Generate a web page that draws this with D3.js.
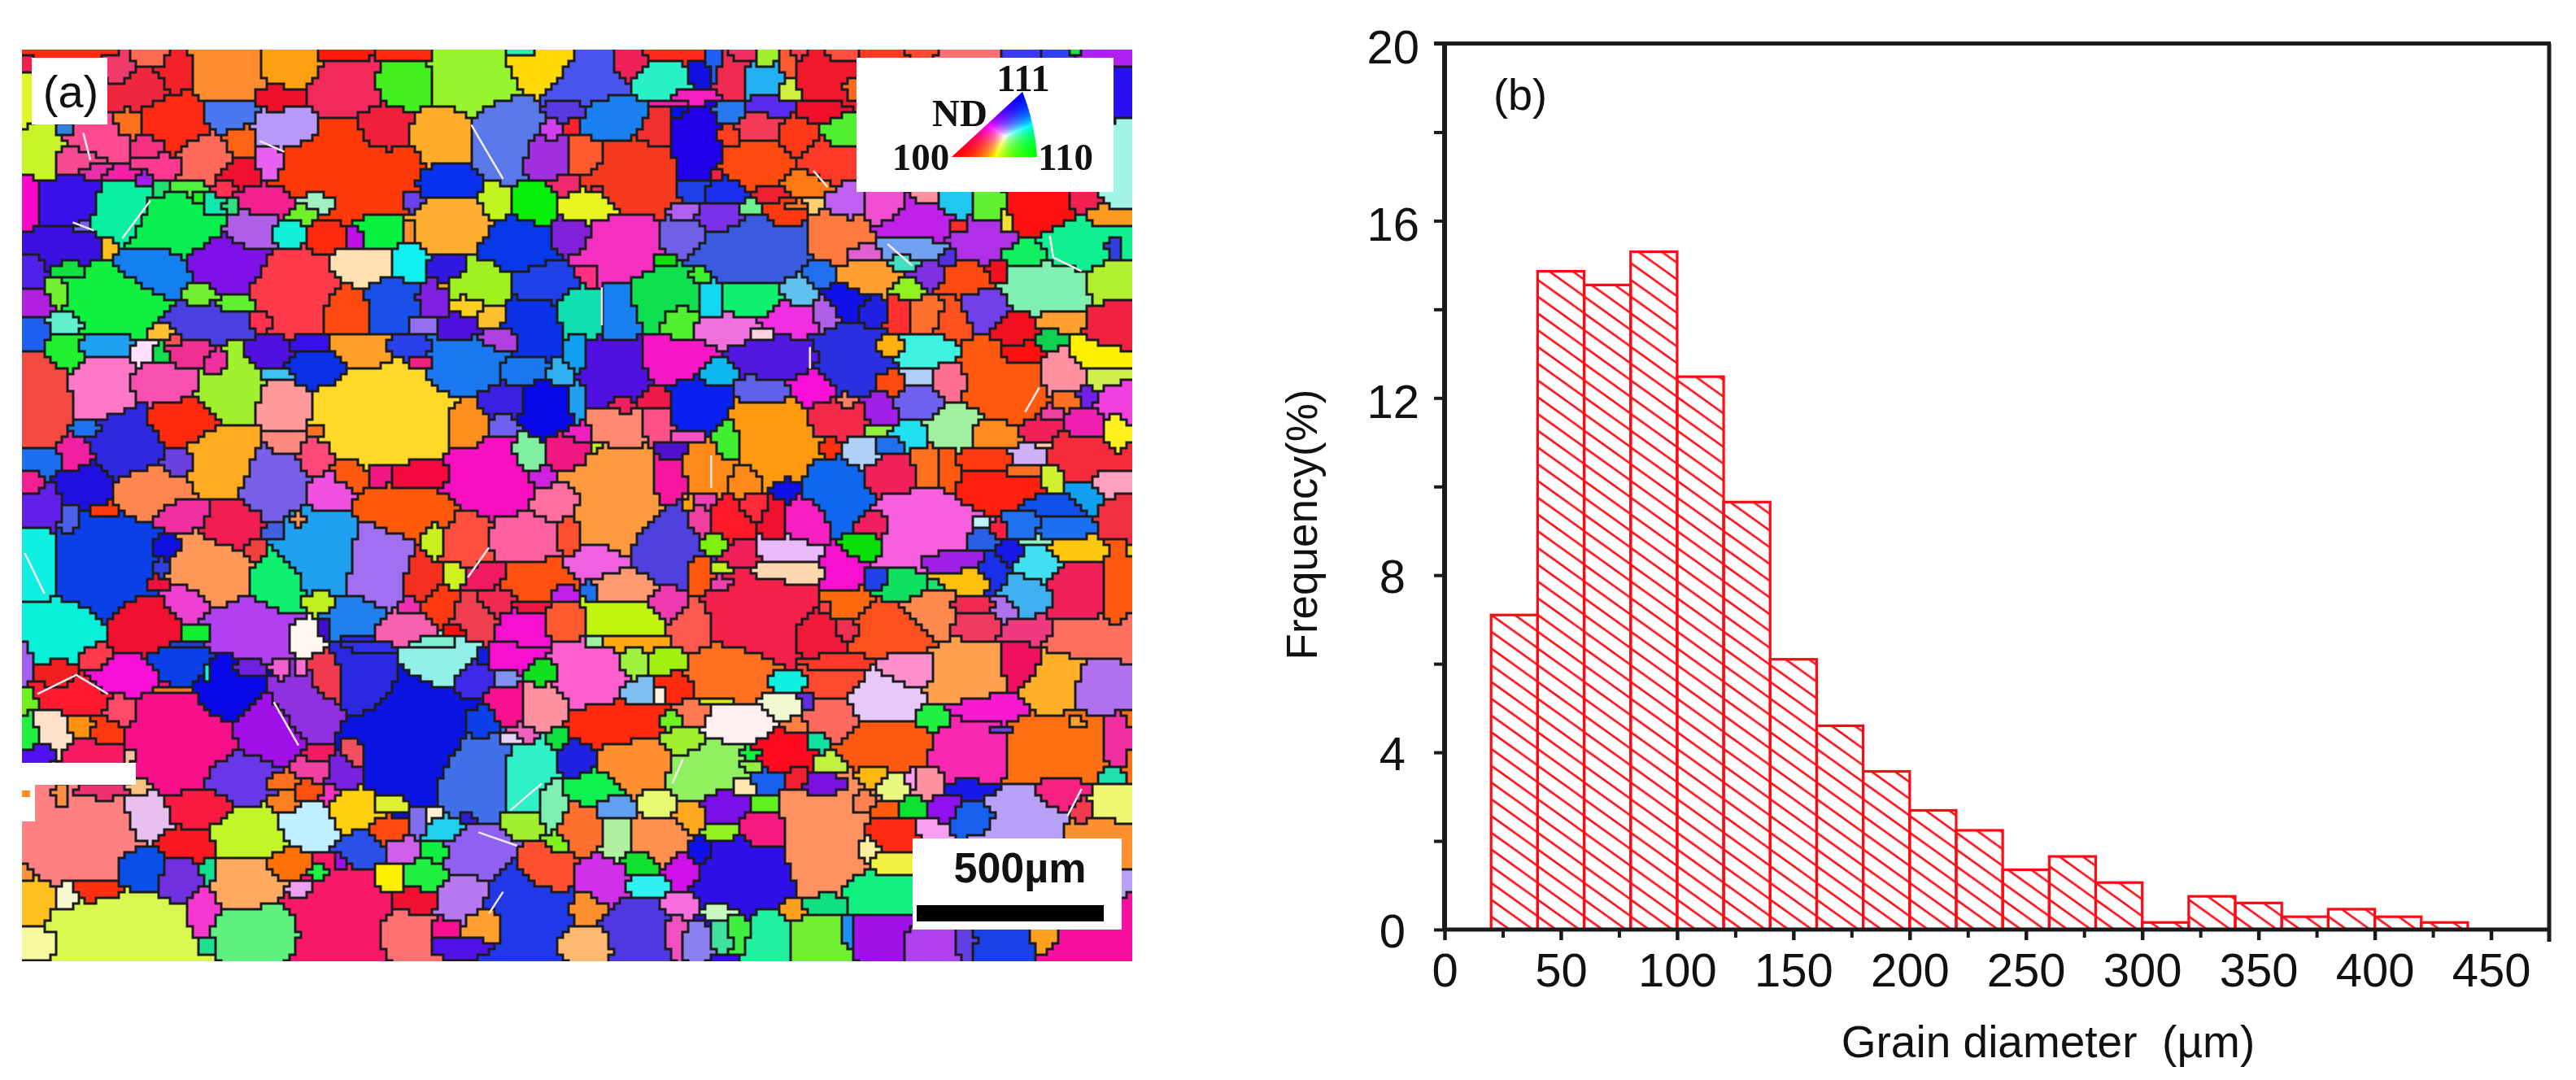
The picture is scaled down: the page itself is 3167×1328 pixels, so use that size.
<!DOCTYPE html>
<html>
<head>
<meta charset="utf-8">
<script src="https://cdn.jsdelivr.net/npm/d3@7"></script>
<style>
  html, body { margin: 0; background: #fff; }
  svg { display: block; filter: blur(0.7px); }
  text { font-family: "Liberation Sans", Arial, sans-serif; fill: #111; }
</style>
</head>
<body>
<div id="chart"></div>
<script>
// (b) histogram
const binStart = [20,40,60,80,100,120,140,160,180,200,220,240,260,280,300,320,340,360,380,400,420];
const frequency = [7.1,14.86,14.55,15.3,12.48,9.65,6.1,4.6,3.57,2.69,2.24,1.35,1.65,1.06,0.16,0.75,0.6,0.29,0.46,0.29,0.16];
const binWidth = 20;
const xMajor = [0,50,100,150,200,250,300,350,400,450];
const xMinor = [25,75,125,175,225,275,325,375,425];
const yMajor = [0,4,8,12,16,20];
const yMinor = [2,6,10,14,18];

// (a) grain map: centre x, centre y, width, height, colour, in three strips of map units
const grainsTop = [
[80,40,140,40,'#ff2a10'],[10,240,30,130,'#e0f52a'],[15,80,20,50,'#f0204a'],[150,100,40,130,'#f03a6a'],[185,65,60,70,'#ff6a50'],
[225,120,50,140,'#f4202a'],[178,180,85,140,'#f0283f'],[300,125,100,200,'#ff8c2e'],[392,105,85,150,'#ffa012'],[375,210,70,90,'#f0102e'],
[465,170,110,220,'#f22a5c'],[460,55,70,50,'#ff1a0a'],[550,55,70,55,'#ff2a10'],[552,165,95,170,'#44f01e'],[645,150,125,240,'#96f52e'],
[750,100,105,170,'#ffd808'],[722,40,50,25,'#20f0c0'],[805,135,130,175,'#4a55f0'],[868,90,50,120,'#f0205a'],[935,55,85,50,'#ff2a1a'],
[910,150,85,130,'#2af0c8'],[968,125,35,90,'#1010e0'],[988,85,20,100,'#2060f0'],[1015,125,40,160,'#f02a50'],[960,205,55,60,'#f820c0'],
[925,232,50,30,'#f020b0'],[1030,55,45,45,'#f03060'],[1062,60,30,60,'#a0f030'],[1060,150,55,115,'#22b0f0'],[1095,185,30,70,'#d0f040'],
[1095,90,25,100,'#ff5a30'],[1140,120,70,180,'#f0182a'],[1110,50,30,40,'#ff3a50'],[1165,50,40,40,'#ff5040'],[1230,50,60,30,'#ff3a20'],
[1280,45,40,25,'#ff4a30'],[1350,48,80,30,'#ff7070'],[1425,48,60,30,'#3a3af0'],[1480,48,50,30,'#3040f0'],[1500,45,20,25,'#20e040'],
[1540,60,50,60,'#b020f0'],[1185,170,20,60,'#ff6a20'],[1555,200,30,150,'#2a10f0'],[1560,450,30,250,'#a0f5e8'],
[38,420,65,180,'#c8f52a'],[115,360,90,130,'#ff4a90'],[75,440,85,110,'#f54a90'],[190,390,45,70,'#f53080'],[205,460,60,70,'#ff3a90'],
[150,495,60,50,'#f520a8'],[110,480,40,50,'#e830a8'],[178,505,25,45,'#a020e8'],[225,300,100,200,'#ff2a14'],[298,270,80,120,'#4a78f0'],
[160,310,40,100,'#ff7020'],[70,330,20,35,'#3080e0'],[268,430,75,170,'#ff6a5a'],[318,375,45,120,'#ff6414'],[318,490,70,100,'#f01030'],
[383,325,95,150,'#b898f8'],[358,450,40,130,'#e860f0'],[470,470,200,350,'#ff3a08'],[520,335,80,200,'#f0203a'],[603,350,85,220,'#ffad2a'],
[612,520,85,120,'#0a30f0'],[692,360,90,300,'#5a78e8'],[780,260,50,70,'#5838e0'],[852,290,95,155,'#1a80f0'],[905,325,50,140,'#f03030'],
[965,390,70,300,'#2000e8'],[940,260,20,50,'#0010f0'],[750,430,70,170,'#a030e0'],[760,335,25,70,'#d040f0'],[790,320,20,50,'#ff2030'],
[808,430,55,130,'#ff5a30'],[875,490,125,270,'#f53a20'],[1010,265,40,80,'#2878f0'],[1068,240,55,70,'#5a2af0'],[1050,320,60,110,'#f53a58'],
[1010,355,30,90,'#ff4020'],[1110,360,55,130,'#ff3a1a'],[1135,260,50,80,'#f0102a'],[1165,335,45,90,'#50f030'],[1045,460,100,175,'#ff4a10'],
[1140,450,60,160,'#ff3a28'],[1118,520,70,90,'#ff7a14'],[990,500,20,60,'#f02040'],[775,535,40,80,'#f02a6a'],[825,545,25,45,'#ff2a5a'],
[960,540,50,80,'#2040e8'],[1005,550,60,100,'#1a30f0'],[1068,565,45,60,'#f02030'],[20,590,25,200,'#f808c8'],[75,590,85,170,'#3a10e8'],
[150,630,85,190,'#08f0a0'],[225,680,125,220,'#08f050'],[205,550,20,50,'#20e070'],[250,545,50,45,'#50f040'],[258,578,20,30,'#20f020'],
[280,610,30,90,'#10e8b0'],[303,610,20,60,'#30e080'],[295,545,30,60,'#ff3050'],[355,590,80,110,'#f5208f'],[333,700,70,150,'#b060e8'],
[385,710,45,80,'#10f0d8'],[408,635,40,70,'#70f028'],[430,595,70,90,'#a0f0c0'],[440,720,50,110,'#ff2a10'],[515,700,70,110,'#08f040'],
[480,730,30,90,'#c010e8'],[562,590,25,70,'#6a40e8'],[555,700,20,70,'#ff9030'],[622,680,110,200,'#ffb030'],[680,600,45,140,'#c0f520'],
[735,600,65,160,'#08f008'],[810,615,80,120,'#e8f520'],[710,750,110,190,'#0838e8'],[785,720,60,130,'#8020d8'],[855,770,115,250,'#f530c0'],
[945,630,45,50,'#b060f0'],[1000,660,65,110,'#7a30e8'],[945,725,65,130,'#7060e8'],[1040,765,150,240,'#3a5ae0'],[1040,620,25,60,'#70f090'],
[1085,640,50,100,'#ff3a10'],[1105,610,35,30,'#ff7a20'],[1130,605,20,50,'#ffd070'],[1160,730,70,170,'#ff7a40'],[1175,600,40,100,'#c060f0'],
[1230,610,45,100,'#f050d0'],[1285,670,95,130,'#c020e8'],[1290,575,30,40,'#ff90a0'],[1330,610,40,90,'#20c8f0'],[1378,610,40,100,'#60f030'],
[1335,690,30,50,'#ff2a30'],[1450,630,85,160,'#ff1010'],[1510,590,30,70,'#f02050'],[1545,650,50,60,'#ff9a20'],[1403,670,15,80,'#f0e030'],
[1372,740,85,130,'#b030e8'],[1500,750,95,170,'#10f090'],[1430,785,70,80,'#10f060'],[1275,775,80,90,'#70a0f0'],[1555,760,20,70,'#3040e0'],
[1260,810,40,70,'#40e0c0'],[1200,785,50,50,'#e060d0'],[1140,860,45,80,'#2070f0'],[1205,880,75,120,'#ffa030'],[1295,860,45,80,'#8030e0'],
[1345,880,60,110,'#ff4a10'],[1390,850,25,80,'#f01020'],[1320,800,25,50,'#5030e0'],[1460,910,105,170,'#80f0b0'],[1545,890,50,120,'#b0f030'],
[1262,920,40,70,'#90f020'],[60,760,95,130,'#3a10e0'],[95,690,20,50,'#7060f0'],[130,760,20,60,'#ffc020'],[195,850,90,180,'#1480f0'],
[300,820,100,200,'#8010e8'],[75,845,40,60,'#10e040'],[25,830,30,120,'#5020e8'],[30,970,45,90,'#b020e0'],[138,945,130,200,'#10f040'],
[60,935,30,90,'#70f030'],[260,935,45,70,'#70f030'],[310,975,50,60,'#60f030'],[395,920,115,240,'#ff3a4a'],[272,1030,110,120,'#4a40e0'],
[345,1030,30,70,'#ff3050'],[490,835,85,120,'#ffe0b0'],[558,825,50,120,'#10f0f0'],[612,835,60,90,'#3018e0'],[655,900,85,180,'#a0f020'],
[532,965,70,170,'#1a50e8'],[468,990,60,150,'#ff4a10'],[590,960,40,130,'#8020e0'],[640,970,50,70,'#ffd020'],[675,1020,40,70,'#ffc030'],
[605,905,25,35,'#ffa020'],[580,1045,40,50,'#9070f0'],[625,1060,50,80,'#5010e0'],[750,895,85,140,'#2040e8'],[730,1040,75,180,'#0a30e8'],
[800,990,70,160,'#10e0b0'],[855,985,55,200,'#1880f0'],[915,940,110,200,'#10e050'],[810,860,30,90,'#ff3080'],[970,870,30,60,'#40f030'],
[920,810,30,50,'#10e010'],[1040,950,85,130,'#10f070'],[985,960,40,130,'#10d8f0'],[940,1030,50,130,'#50f030'],[1005,1060,80,100,'#f070e0'],
[1100,1020,75,110,'#f030e0'],[1108,930,40,110,'#60c0f0'],[1145,1010,35,90,'#b060e8'],[1180,950,50,120,'#1010e8'],[1215,990,35,90,'#2020e0'],
[1250,1000,30,110,'#ff3030'],[1290,1010,50,100,'#ff7030'],[1330,1030,50,130,'#ff5020'],[1370,990,65,130,'#7040e8'],[1415,1075,55,120,'#f01020'],
[1480,1030,60,70,'#ffa030'],[1548,1050,50,130,'#f02040'],[1465,1105,35,60,'#10d050'],[1055,1085,30,50,'#ffd0e0'],[690,1095,50,80,'#b040e0'],
[208,1075,25,60,'#ffc030'],[25,1075,35,120,'#2060f0'],[70,1040,40,70,'#60f0d0'],[225,1110,30,30,'#ff5050']
];
const grainsMiddle = [
[68,45,50,110,'#20f030'],[125,25,70,70,'#20a0f0'],[180,45,40,70,'#ffe0ff'],[205,50,20,70,'#10e050'],[243,45,60,90,'#f03090'],
[285,85,35,90,'#f030a0'],[360,45,55,90,'#5010e0'],[415,15,50,50,'#3a10e8'],[428,100,80,130,'#0a30e8'],[488,45,80,110,'#ffa028'],
[555,25,50,70,'#2a40e8'],[578,75,35,50,'#f02080'],[30,220,85,320,'#f54a40'],[125,175,85,230,'#ff78c8'],[205,160,90,130,'#f850b0'],
[100,320,40,70,'#2070f0'],[155,375,100,250,'#3028e0'],[235,300,100,160,'#ff2a10'],[305,185,85,240,'#a0f030'],[370,125,50,40,'#40c0f0'],
[380,240,75,180,'#ff9a9a'],[380,375,60,90,'#ff8880'],[425,325,30,40,'#ff7020'],[422,425,50,120,'#ff4a78'],[520,275,190,350,'#ffd82a'],
[632,100,95,190,'#1a78f0'],[715,115,60,80,'#1a78f0'],[690,225,65,120,'#3a20e0'],[690,310,40,80,'#7060f0'],[750,240,70,190,'#0808e8'],
[772,130,30,80,'#30b0f0'],[795,220,20,140,'#20a0f0'],[850,120,95,210,'#5010e0'],[795,50,25,120,'#10a0f0'],[930,75,95,160,'#f818c8'],
[905,215,50,80,'#f01a4a'],[860,235,35,60,'#f02060'],[965,225,85,200,'#0a20f0'],[992,120,45,100,'#10b8f0'],[1060,185,70,100,'#6060e8'],
[1085,70,110,130,'#5018e0'],[1130,170,65,130,'#f810d8'],[1175,85,90,200,'#2a30e0'],[1175,220,25,50,'#ff8060'],[1225,255,45,120,'#a020e8'],
[1240,155,40,70,'#ff4a10'],[1240,20,35,50,'#ffb010'],[1295,40,70,100,'#40f0e0'],[1280,130,40,60,'#b0d0f8'],[1282,230,70,110,'#7060f0'],
[1325,150,45,140,'#ff7090'],[1395,150,110,280,'#ff5a10'],[1420,45,65,110,'#ff1010'],[1480,110,60,140,'#ff90a0'],[1525,50,60,90,'#fff000'],
[1540,140,40,70,'#d0f050'],[1490,215,35,70,'#ff7020'],[1520,200,30,60,'#7020e8'],[1550,220,40,120,'#f040e0'],[1470,265,30,50,'#f040a0'],
[1515,300,45,90,'#f020b0'],[1555,330,25,110,'#fff020'],[1450,320,50,70,'#f0205a'],[1270,340,50,100,'#20e0f0'],[1330,310,80,170,'#a0f0a0'],
[1380,345,70,110,'#ff8a20'],[1220,325,35,40,'#90f040'],[1160,290,90,140,'#f52a4a'],[1195,410,50,110,'#b0d0f8'],[1155,390,35,70,'#ff3010'],
[1235,385,40,60,'#2070f0'],[1072,360,135,290,'#ff9a10'],[1010,375,40,170,'#40f030'],[955,350,45,30,'#f850c8'],[925,400,40,60,'#5010d0'],
[860,315,85,140,'#ff8a70'],[905,300,50,140,'#ff5088'],[725,420,45,130,'#80f0a0'],[780,410,60,120,'#f01880'],[798,340,35,70,'#f020c0'],
[820,390,15,35,'#c0f020'],[640,310,60,170,'#ff9020'],[670,500,120,270,'#f810c0'],[745,505,35,70,'#d020e0'],[770,590,70,130,'#ff70a0'],
[850,590,140,400,'#ff9a40'],[920,510,45,180,'#f818a0'],[990,470,70,170,'#ff8a18'],[1030,510,50,120,'#ff8a18'],[1092,550,40,80,'#1010e8'],
[1160,570,90,270,'#1068f0'],[1245,500,85,130,'#f0205a'],[1290,470,40,160,'#ff7020'],[1320,480,30,170,'#ff5a10'],[1370,430,75,80,'#ff3a10'],
[1385,550,105,130,'#ff2010'],[1435,420,50,70,'#d0b0f8'],[1425,475,40,60,'#ff7020'],[1470,500,25,100,'#d0f030'],[1505,425,80,140,'#f52a3a'],
[1455,385,25,30,'#ffd0a0'],[1515,570,45,90,'#10a0f0'],[1547,530,35,90,'#ffa0c0'],[1465,605,85,70,'#1050e8'],[1555,640,30,130,'#f03040'],
[1425,665,50,90,'#2070f0'],[1480,680,60,70,'#1a70f0'],[1365,665,25,40,'#c0f0f8'],[1368,735,40,70,'#2a60e8'],[1395,690,20,60,'#ff2040'],
[1440,740,35,30,'#90f0c0'],[1505,775,75,70,'#ffc810'],[1410,780,35,70,'#1818e8'],[1328,810,85,70,'#a020e8'],[1450,825,60,110,'#40e0f0'],
[1385,840,35,120,'#1a30e8'],[1348,880,75,70,'#ffc010'],[1430,930,60,120,'#40b0f0'],[1505,900,70,190,'#f0205a'],[1555,880,25,240,'#ff5a10'],
[1400,985,30,90,'#b070f0'],[1355,975,60,55,'#f02a50'],[1290,1010,75,170,'#ff8a50'],[1360,1050,60,90,'#f03a60'],[1435,1070,70,80,'#f03a80'],
[1510,1085,90,110,'#ff7060'],[1300,900,20,40,'#20e070'],[1258,905,55,100,'#10e060'],[1222,880,30,60,'#2040e8'],[1170,970,60,110,'#ff6a10'],
[1250,1060,110,150,'#ff5020'],[1198,745,60,90,'#08e008'],[1215,675,50,100,'#f02060'],[1285,670,130,260,'#f860e0'],[1125,660,70,190,'#f820c0'],
[1165,840,50,170,'#f810d0'],[1100,770,85,100,'#e8b8f8'],[1100,850,110,80,'#ffd8b0'],[1025,790,50,90,'#f0205a'],[1075,650,30,170,'#f01030'],
[1010,660,50,150,'#ff1a2a'],[1042,610,45,80,'#ff2a3a'],[990,745,40,70,'#80f010'],[980,585,25,50,'#f040b0'],[955,605,15,50,'#ffa010'],
[968,670,30,100,'#f040a0'],[920,760,100,280,'#5040e0'],[825,810,80,120,'#f060e0'],[865,905,85,120,'#ff9a70'],[968,855,35,130,'#ff5a10'],
[925,960,50,110,'#f03ab0'],[1000,835,25,50,'#c0f020'],[1000,900,30,60,'#f040b0'],[1055,1000,150,280,'#f5204a'],[960,1050,50,170,'#ff5a50'],
[1135,1070,65,150,'#f01a3a'],[1150,980,20,50,'#ff4040'],[1175,1060,30,80,'#f03050'],[850,1020,105,120,'#c0f510'],[875,1110,75,60,'#ffa810'],
[780,1030,60,120,'#ff5a30'],[818,1110,20,40,'#a0f0a0'],[718,1060,65,160,'#f810d0'],[735,880,95,150,'#ff5010'],[775,930,35,60,'#c020e8'],
[815,920,20,60,'#2070f0'],[725,975,50,45,'#f01840'],[680,960,50,100,'#f02a50'],[650,1020,60,140,'#f04050'],[600,975,45,140,'#ff3a10'],
[620,1070,30,50,'#ff1010'],[550,1060,75,110,'#f860b0'],[595,1115,70,50,'#80f0d0'],[575,870,45,170,'#f53020'],[620,850,30,100,'#d0f020'],
[590,730,30,150,'#c8f020'],[640,740,75,210,'#ff5040'],[715,735,95,170,'#ff60a0'],[665,860,55,110,'#f01a60'],[785,715,30,130,'#ff5030'],
[555,635,130,170,'#ff5a0a'],[575,490,85,90,'#f50a40'],[515,490,30,80,'#f01880'],[472,490,45,110,'#ff5a10'],[445,560,60,140,'#f050e0'],
[360,510,100,270,'#7a60e8'],[295,440,110,270,'#ffac20'],[230,450,45,100,'#6a40e0'],[195,555,105,190,'#ff8850'],[100,530,70,170,'#2010e0'],
[85,415,50,120,'#f020a0'],[35,440,55,110,'#1a70f0'],[25,510,30,100,'#f02090'],[38,620,55,150,'#6020e8'],[75,650,30,100,'#4a60e8'],
[125,625,40,60,'#ff3a10'],[125,840,145,370,'#0a40e8'],[35,825,55,260,'#10f0e0'],[60,1040,120,180,'#08f0d8'],[180,1030,100,190,'#f01030'],
[200,895,30,60,'#f01040'],[210,760,40,80,'#1010e0'],[205,830,20,70,'#3040e0'],[235,630,80,110,'#f030a0'],[308,675,80,190,'#f01e50'],
[278,850,110,250,'#ff9858'],[340,770,30,80,'#f04040'],[240,960,65,140,'#f040d0'],[370,880,75,220,'#10f070'],[365,700,30,70,'#4060e0'],
[430,770,125,300,'#20a0f0'],[400,660,20,50,'#ff9050'],[430,960,40,70,'#c0f020'],[510,810,90,300,'#a070f0'],[480,1010,70,130,'#2080f0'],
[555,975,30,50,'#f030b0'],[330,1050,110,190,'#b040f0'],[255,1075,45,60,'#10f030'],[410,1090,45,100,'#fff8f0'],[435,1060,20,60,'#4010d0'],
[240,1125,40,30,'#2040e0'],[500,1125,60,50,'#3030e8']
];
const grainsBottom = [
[12,80,15,130,'#a060f0'],[115,55,35,80,'#ff3a4a'],[235,80,75,130,'#0a40e8'],[155,130,85,130,'#f810d8'],[60,130,45,80,'#f02020'],
[80,200,95,130,'#ff1a30'],[225,180,50,25,'#ff7020'],[270,120,15,90,'#10f0f0'],[300,185,85,220,'#0808e8'],[325,100,40,70,'#7020e0'],
[375,100,20,60,'#f060d0'],[405,100,15,60,'#ff70d0'],[440,145,45,150,'#f03a50'],[405,230,85,210,'#9030e0'],[355,310,90,210,'#a010e8'],
[495,120,75,240,'#2a28e0'],[605,70,90,170,'#90f0e8'],[570,360,145,420,'#0a14e0'],[645,130,45,130,'#4028e8'],[660,60,20,60,'#1020e0'],
[708,45,65,100,'#f810d0'],[658,300,45,100,'#0a40e8'],[745,110,40,90,'#10e020'],[695,140,30,50,'#8090f0'],[695,225,45,130,'#f81090'],
[750,240,60,170,'#ff90a0'],[815,130,100,220,'#ff60d0'],[875,75,40,110,'#a0f040'],[925,70,50,90,'#a0f010'],[880,190,45,100,'#80c0f0'],
[935,160,50,100,'#ff2a10'],[1005,115,110,190,'#ff7020'],[990,215,50,40,'#d0f010'],[915,190,20,50,'#fff0e0'],[1095,145,50,60,'#10f0e0'],
[1085,230,50,90,'#f0f8d0'],[1120,210,20,60,'#6030e0'],[1155,140,75,130,'#ff4a30'],[1160,80,70,60,'#ff3a2a'],[1230,215,90,170,'#e8c8f8'],
[1270,100,70,120,'#ff90d0'],[1345,120,100,220,'#ffa050'],[1425,90,50,150,'#f01060'],[1465,165,75,190,'#ffb028'],[1375,245,100,100,'#f81ad0'],
[1530,180,55,130,'#b070f0'],[1300,280,45,90,'#20f040'],[1155,295,75,140,'#ff6a60'],[1105,310,35,60,'#ff8040'],[1020,295,90,130,'#fff0f0'],
[960,260,45,100,'#ff7a50'],[928,295,30,60,'#70f020'],[850,305,130,170,'#ff2a10'],[945,365,60,120,'#a0f030'],[875,440,110,190,'#ff9030'],
[975,470,105,210,'#90f060'],[1095,405,75,150,'#ff0a20'],[1135,365,35,70,'#10e0a0'],[1040,410,25,35,'#10f040'],[1040,455,25,50,'#90f040'],
[1150,450,45,70,'#c0f040'],[1065,510,40,70,'#1a60f0'],[1105,495,30,90,'#f02030'],[1030,530,30,70,'#ffe8b0'],[1145,530,60,80,'#7a10e0'],
[1235,370,125,170,'#ff5a14'],[1350,395,105,230,'#f828b0'],[1470,395,135,250,'#ff7014'],[1395,320,40,30,'#7040e0'],[1500,295,30,40,'#ffa030'],
[1555,370,30,140,'#f030a0'],[1550,490,25,60,'#20e0b0'],[1215,495,40,70,'#ffb810'],[1245,530,40,80,'#e8f880'],[1270,500,15,60,'#ffa0f0'],
[1295,520,40,100,'#ff90a0'],[1350,540,70,60,'#1818e8'],[1480,555,70,130,'#f82080'],[1510,620,30,120,'#f03a50'],[1545,600,55,110,'#f0f870'],
[1430,630,105,180,'#b8a0f8'],[1525,690,70,90,'#ff9030'],[1315,610,45,90,'#9010f0'],[1358,640,60,90,'#1a60f0'],[1272,610,35,70,'#10e030'],
[1232,620,40,40,'#ff5a10'],[1240,700,70,90,'#ff2a14'],[1295,690,35,70,'#f8a0f0'],[1200,595,30,70,'#ff8050'],[1205,760,30,80,'#fff0a0'],
[1240,820,50,70,'#f0f040'],[1215,920,85,130,'#10f080'],[1150,965,55,70,'#10e080'],[1148,720,110,400,'#ff9060'],[1060,700,60,140,'#f81a80'],
[1060,600,30,60,'#60f020'],[1005,600,65,110,'#7a10e8'],[1000,705,45,70,'#90f020'],[1030,860,125,280,'#3010e8'],[970,770,35,90,'#1010e8'],
[945,835,50,120,'#d010e8'],[955,640,40,110,'#ffa820'],[910,600,50,100,'#e8f870'],[910,730,85,170,'#ff9050'],[850,610,45,80,'#60a0f0'],
[800,700,55,170,'#ff7030'],[850,730,40,160,'#b0f0a0'],[885,815,50,90,'#10e030'],[895,900,55,80,'#30f0f0'],[940,965,50,80,'#f870e0'],
[828,880,75,170,'#d030e8'],[768,740,35,70,'#80f020'],[755,850,75,190,'#ff5030'],[808,975,50,120,'#ff9030'],[730,970,125,250,'#2038e8'],
[645,770,90,200,'#9060f0'],[722,665,60,90,'#a0f030'],[610,695,55,100,'#20d0f0'],[545,765,45,100,'#d060e8'],[570,660,25,90,'#8070f0'],
[600,770,40,70,'#10f040'],[580,860,65,110,'#20f040'],[525,700,55,90,'#ff4a10'],[490,760,60,130,'#2a50e8'],[530,870,45,100,'#fff000'],
[565,950,60,90,'#f01030'],[630,930,70,170,'#b878f0'],[590,630,25,60,'#fff0d0'],[640,650,20,35,'#2a20d0'],[530,595,50,60,'#e0f030'],
[475,620,70,150,'#ffd010'],[415,670,80,140,'#c0f0ff'],[330,700,90,190,'#c0f528'],[380,595,40,70,'#ff8020'],[415,550,35,80,'#ff5010'],
[375,515,40,60,'#ff7020'],[445,565,25,70,'#f830c0'],[465,480,45,120,'#7a20e0'],[420,470,40,80,'#f040a0'],[430,410,35,50,'#f01a60'],
[478,410,25,100,'#f05060'],[310,510,95,190,'#6838e8'],[230,370,150,360,'#f8108a'],[265,600,95,130,'#f81a40'],[185,640,55,180,'#e8c0f0'],
[240,755,70,110,'#f81a20'],[85,720,170,320,'#ff8080'],[178,835,70,150,'#0a50e8'],[325,885,85,190,'#ffaa60'],[385,820,55,90,'#ff7008'],
[230,870,60,180,'#7030e0'],[272,835,20,90,'#10e090'],[430,850,30,50,'#20f040'],[405,910,35,60,'#f0a0f0'],[458,810,15,60,'#a010e8'],
[262,990,45,170,'#f838d0'],[460,975,125,270,'#f81868'],[335,1050,110,150,'#60f080'],[150,1035,195,220,'#d8f850'],[112,915,75,90,'#ff3010'],
[72,945,35,110,'#f8f8d0'],[30,960,45,170,'#ffc020'],[30,1100,50,90,'#f8f8a0'],[15,850,15,60,'#ff9040'],[270,1110,25,50,'#20e090'],
[555,1060,70,130,'#ff7070'],[605,1060,40,70,'#f81090'],[665,1040,50,110,'#ffa030'],[630,1115,70,50,'#5010e8'],[805,1100,60,100,'#ffb870'],
[880,1040,85,160,'#5038e0'],[935,1060,25,110,'#f050c0'],[965,1090,35,80,'#8a80f0'],[1000,990,45,50,'#c8f8c0'],[1022,1050,30,100,'#40f040'],
[1000,1070,30,80,'#40e0a0'],[1065,1060,45,160,'#20f0a0'],[1100,985,30,70,'#ffa020'],[1140,1070,70,130,'#70f030'],[1180,1060,20,90,'#2090f0'],
[1222,1070,65,110,'#a010e8'],[1300,1100,70,80,'#b040f0'],[1390,1100,60,80,'#1a40e8'],[1460,1090,25,60,'#ffa020'],[1525,1100,90,80,'#f810a0'],
[1345,1100,30,70,'#6040e0'],[730,500,70,280,'#30f0c8'],[755,590,40,200,'#80f0b0'],[645,490,110,300,'#4070e8'],[795,430,50,130,'#2020e0'],
[770,350,30,70,'#10e040'],[720,340,40,60,'#f060c0'],[705,355,35,40,'#e8d0f8'],[820,530,75,120,'#10f050'],[35,405,45,70,'#5010f0'],
[50,325,50,170,'#ffe0c8'],[90,310,40,60,'#ff9010'],[130,345,45,130,'#ff3a10'],[115,410,85,110,'#f81a60'],[20,335,20,140,'#20f040'],
[18,220,20,70,'#70f020'],[150,250,45,110,'#ff4a6a'],[160,420,20,60,'#ffc0a0'],[120,550,70,50,'#f03070'],[175,530,30,70,'#ffc080'],[65,570,25,70,'#ff9040']
];
// light twin boundaries: strip, then points in that strip's map units
const twinLines = [
[0,[[645,310],[665,400],[690,510]]],[0,[[190,590],[150,730]]],[0,[[80,670],[110,700]]],[0,[[1130,480],[1150,540]]],[0,[[95,340],[105,440]]],
[0,[[345,370],[380,410]]],[0,[[1235,750],[1270,830]]],[0,[[830,910],[830,1050]]],[0,[[1465,720],[1470,800],[1510,850]]],
[1,[[12,780],[40,930]]],[1,[[670,760],[640,870]]],[1,[[985,420],[985,540]]],[1,[[1450,170],[1430,260]]],[1,[[1125,20],[1125,100]]],
[2,[[365,220],[400,380]]],[2,[[745,520],[700,620]]],[2,[[655,700],[710,750]]],[2,[[1510,540],[1490,640]]],[2,[[30,190],[85,120],[130,190]]],
[2,[[690,920],[670,1000]]],[2,[[945,430],[930,520]]]
];

const width = 3167, height = 1328;
const svg = d3.select("#chart").append("svg").attr("width", width).attr("height", height);

// ---------- panel (a) ----------
const mapBox = { left: 27, right: 1392, top: 61, bottom: 1182 };
const cell = 7;
const mapX = d3.scaleLinear().domain([0, 1568]).range([20, 1380]);
const stripY = [50, 420, 790].map(y0 => d3.scaleLinear().domain([0, 1140]).range([y0, y0 + 380]));

const grains = [grainsTop, grainsMiddle, grainsBottom].flatMap((strip, s) => strip.map(g => ({
    x: mapX(g[0]),
    y: stripY[s](g[1]),
    rx: g[2] / 2 * (1360 / 1568),
    ry: g[3] / 2 / 3,
    color: g[4]
})));

const cols = Math.ceil((mapBox.right - mapBox.left) / cell);
const rows = Math.ceil((mapBox.bottom - mapBox.top) / cell);
const owner = [];
for (let r = 0; r < rows; r++) {
    const line = [];
    const cy = mapBox.top + (r + 0.5) * cell;
    for (let c = 0; c < cols; c++) {
        const cx = mapBox.left + (c + 0.5) * cell;
        let best = 0, bestD = Infinity;
        grains.forEach((g, i) => {
            const dx = (cx - g.x) / g.rx, dy = (cy - g.y) / g.ry;
            const d = dx * dx + dy * dy;
            if (d < bestD) { bestD = d; best = i; }
        });
        line.push(best);
    }
    owner.push(line);
}

svg.append("clipPath").attr("id", "mapClip").append("rect")
    .attr("x", mapBox.left).attr("y", mapBox.top)
    .attr("width", mapBox.right - mapBox.left).attr("height", mapBox.bottom - mapBox.top);

const panelA = svg.append("g").attr("clip-path", "url(#mapClip)");

// grain areas, one path per grain built from the grid runs
const grainPaths = grains.map(() => d3.path());
owner.forEach((line, r) => {
    let start = 0;
    for (let c = 1; c <= cols; c++) {
        if (c === cols || line[c] !== line[start]) {
            grainPaths[line[start]].rect(mapBox.left + start * cell, mapBox.top + r * cell, (c - start) * cell, cell + 0.5);
            start = c;
        }
    }
});
panelA.selectAll("path.grain")
    .data(grains)
    .join("path")
    .attr("class", "grain")
    .attr("fill", d => d.color)
    .attr("d", (d, i) => grainPaths[i].toString());

// boundaries between neighbouring cells
const edges = d3.path();
for (let r = 0; r < rows; r++) {
    for (let c = 0; c < cols; c++) {
        const px = mapBox.left + c * cell, py = mapBox.top + r * cell;
        if (c + 1 < cols && owner[r][c] !== owner[r][c + 1]) {
            edges.moveTo(px + cell, py); edges.lineTo(px + cell, py + cell);
        }
        if (r + 1 < rows && owner[r][c] !== owner[r + 1][c]) {
            edges.moveTo(px, py + cell); edges.lineTo(px + cell, py + cell);
        }
    }
}
panelA.append("path")
    .attr("d", edges.toString())
    .attr("fill", "none")
    .attr("stroke", "#1c1c20")
    .attr("stroke-width", 3)
    .attr("stroke-linecap", "square");

// twin boundaries
panelA.selectAll("path.twin")
    .data(twinLines)
    .join("path")
    .attr("class", "twin")
    .attr("fill", "none")
    .attr("stroke", "#f4e8f0")
    .attr("stroke-width", 2.5)
    .attr("d", d => d3.line().x(p => mapX(p[0])).y(p => stripY[d[0]](p[1]))(d[1]));

// unindexed white patch on the left edge
panelA.append("rect").attr("x", 27).attr("y", 938).attr("width", 140).attr("height", 27).attr("fill", "#fff");
panelA.append("rect").attr("x", 27).attr("y", 965).attr("width", 16).attr("height", 45).attr("fill", "#fff");
panelA.append("rect").attr("x", 27).attr("y", 972).attr("width", 10).attr("height", 8).attr("fill", "#ff9020");

// label, key and scale bar boxes
svg.append("rect").attr("x", 39).attr("y", 71).attr("width", 93).attr("height", 82).attr("fill", "#fff");
svg.append("text").attr("x", 87).attr("y", 132).attr("text-anchor", "middle").attr("font-size", 56).text("(a)");

svg.append("rect").attr("x", 1053).attr("y", 71).attr("width", 316).attr("height", 165).attr("fill", "#fff");

// orientation key: red 100, green 110, blue 111
const keyCorners = [[1170, 193], [1275, 193], [1257, 113]];
const keyShape = d3.path();
keyShape.moveTo(...keyCorners[0]);
keyShape.lineTo(...keyCorners[2]);
keyShape.quadraticCurveTo(1272, 150, 1275, 193);
keyShape.closePath();
svg.append("clipPath").attr("id", "keyClip").append("path").attr("d", keyShape.toString());
const keyCells = [];
d3.range(1170, 1278, 2).forEach(px => d3.range(112, 194, 2).forEach(py => keyCells.push([px, py])));
const [A, B, C] = keyCorners;
const denom = (B[1] - C[1]) * (A[0] - C[0]) + (C[0] - B[0]) * (A[1] - C[1]);
const keyColor = ([px, py]) => {
    const wr = Math.max(0, ((B[1] - C[1]) * (px - C[0]) + (C[0] - B[0]) * (py - C[1])) / denom);
    const wg = Math.max(0, ((C[1] - A[1]) * (px - C[0]) + (A[0] - C[0]) * (py - C[1])) / denom);
    const wb = Math.max(0, 1 - wr - wg);
    const m = Math.max(wr, wg, wb);
    return d3.rgb(255 * Math.pow(wr / m, 1.2), 255 * Math.pow(wg / m, 1.2), 255 * Math.pow(wb / m, 1.2)).formatHex();
};
svg.append("g").attr("clip-path", "url(#keyClip)")
    .selectAll("rect").data(keyCells).join("rect")
    .attr("x", d => d[0]).attr("y", d => d[1]).attr("width", 2.5).attr("height", 2.5)
    .attr("fill", keyColor);

const keyLabels = [["111", 1258, 112], ["ND", 1180, 155], ["100", 1132, 209], ["110", 1310, 209]];
svg.append("g").selectAll("text").data(keyLabels).join("text")
    .attr("x", d => d[1]).attr("y", d => d[2])
    .attr("text-anchor", "middle")
    .attr("font-size", 47)
    .attr("font-weight", "bold")
    .style("font-family", '"Liberation Serif", "Times New Roman", serif')
    .text(d => d[0]);

svg.append("rect").attr("x", 1122).attr("y", 1031).attr("width", 257).attr("height", 112).attr("fill", "#fff");
svg.append("text").attr("x", 1254).attr("y", 1085).attr("text-anchor", "middle")
    .attr("font-size", 52).attr("font-weight", "bold").text("500µm");
svg.append("rect").attr("x", 1127).attr("y", 1113).attr("width", 230).attr("height", 20).attr("fill", "#000");

// ---------- panel (b) ----------
const plot = { left: 1776, right: 3134, top: 53.5, bottom: 1143 };
const x = d3.scaleLinear().domain([0, 475]).range([plot.left, plot.right]);
const y = d3.scaleLinear().domain([0, 20]).range([plot.bottom, plot.top]);

// same hatch tile in every bar, so lines kink slightly at the bar edges
const barPx = x(binWidth) - x(0);
const hatchGap = 20.6, hatchDrop = 41;
const hatch = svg.append("pattern")
    .attr("id", "hatch")
    .attr("patternUnits", "userSpaceOnUse")
    .attr("x", x(binStart[0]))
    .attr("y", 1126.7)
    .attr("width", barPx)
    .attr("height", hatchGap);
hatch.selectAll("line").data(d3.range(-3, 2)).join("line")
    .attr("x1", 0).attr("x2", barPx)
    .attr("y1", k => k * hatchGap)
    .attr("y2", k => k * hatchGap + hatchDrop)
    .attr("stroke", "#ff0a14")
    .attr("stroke-width", 2.6);

svg.append("g").selectAll("rect")
    .data(binStart)
    .join("rect")
    .attr("x", d => x(d))
    .attr("y", (d, i) => y(frequency[i]))
    .attr("width", barPx)
    .attr("height", (d, i) => y(0) - y(frequency[i]))
    .attr("fill", "url(#hatch)")
    .attr("stroke", "#ff0a14")
    .attr("stroke-width", 3.2);

const axisColor = "#1a1a1a";
function styleAxis(g, w) {
    g.select(".domain").remove();
    g.selectAll(".tick line").attr("stroke", axisColor).attr("stroke-width", w);
    g.selectAll("text").attr("fill", "#111").attr("font-size", 58)
        .style("font-family", '"Liberation Sans", Arial, sans-serif');
}

const gx = svg.append("g").attr("transform", `translate(0,${plot.bottom})`)
    .call(d3.axisBottom(x).tickValues(xMajor).tickSize(13).tickPadding(0));
styleAxis(gx, 4.5);
gx.selectAll("text").attr("y", 69.7).attr("dy", 0);
svg.append("g").attr("transform", `translate(0,${plot.bottom})`)
    .call(d3.axisBottom(x).tickValues(xMinor).tickSize(10).tickFormat(""))
    .call(g => styleAxis(g, 4));

const gy = svg.append("g").attr("transform", `translate(${plot.left},0)`)
    .call(d3.axisLeft(y).tickValues(yMajor).tickSize(13));
styleAxis(gy, 4);
gy.selectAll("text")
    .attr("x", d => (d >= 10 ? 1745 : 1728) - plot.left)
    .attr("dy", 0)
    .attr("y", d => (d >= 10 ? 24 : 21));
svg.append("g").attr("transform", `translate(${plot.left},0)`)
    .call(d3.axisLeft(y).tickValues(yMinor).tickSize(13).tickFormat(""))
    .call(g => styleAxis(g, 4));

// frame
const frame = [
    [plot.left, plot.top, plot.left, plot.bottom, 6],
    [plot.left, plot.bottom, plot.right + 2, plot.bottom, 5],
    [plot.left - 13, plot.top, plot.right + 2, plot.top, 5],
    [plot.right, plot.top, plot.right, plot.bottom + 15, 5]
];
svg.append("g").selectAll("line").data(frame).join("line")
    .attr("x1", d => d[0]).attr("y1", d => d[1]).attr("x2", d => d[2]).attr("y2", d => d[3])
    .attr("stroke", axisColor)
    .attr("stroke-width", d => d[4]);

// labels
svg.append("text").attr("x", 1869).attr("y", 135).attr("text-anchor", "middle").attr("font-size", 54).text("(b)");
svg.append("text")
    .attr("transform", `translate(1619,${(480 + 810) / 2}) rotate(-90)`)
    .attr("text-anchor", "middle")
    .attr("font-size", 53)
    .text("Frequency(%)");
svg.append("text")
    .attr("x", 2518).attr("y", 1300)
    .attr("text-anchor", "middle")
    .attr("font-size", 55)
    .style("white-space", "pre")
    .text("Grain diameter  (µm)");
</script>
</body>
</html>
